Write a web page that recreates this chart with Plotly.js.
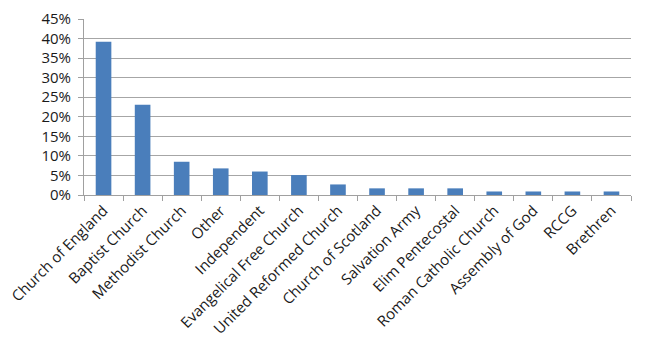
<!DOCTYPE html>
<html>
<head>
<meta charset="utf-8">
<script src="https://cdn.plot.ly/plotly-3.0.1.min.js"></script>
<style>html,body{margin:0;padding:0;background:#fff;}#chart{width:650px;height:352px;}</style>
</head>
<body>
<div id="chart"></div>
<script>
const categories = ["Church of England","Baptist Church","Methodist Church","Other","Independent","Evangelical Free Church","United Reformed Church","Church of Scotland","Salvation Army","Elim Pentecostal","Roman Catholic Church","Assembly of God","RCCG","Brethren"];
const shares = [0.392, 0.231, 0.085, 0.068, 0.060, 0.051, 0.027, 0.017, 0.017, 0.017, 0.009, 0.009, 0.009, 0.009];
const yTicks = [0,0.05,0.10,0.15,0.20,0.25,0.30,0.35,0.40,0.45];

const trace = {
  type: 'bar',
  x: categories,
  y: shares,
  marker: {color: '#4a7ebb', line: {width: 0}},
  hoverinfo: 'x+y'
};
const layout = {
  width: 650, height: 352,
  margin: {l: 84, r: 19, t: 19, b: 157},
  paper_bgcolor: '#fff', plot_bgcolor: '#fff',
  bargap: 0.6,
  font: {family: 'Open Sans, sans-serif', size: 15, color: '#1a1a1a'},
  showlegend: false,
  xaxis: {
    type: 'category',
    tickangle: -45,
    showline: true, linecolor: '#a0a0a0', linewidth: 1,
    ticks: 'outside', ticklen: 5, tickcolor: '#a0a0a0', tickson: 'boundaries',
    showgrid: false,
    tickfont: {size: 15, color: '#1a1a1a'}
  },
  yaxis: {
    range: [0, 0.45],
    tickvals: yTicks,
    tickformat: '.0%',
    showline: true, linecolor: '#a0a0a0', linewidth: 1,
    ticks: 'outside', ticklen: 5, tickcolor: '#a0a0a0',
    ticklabelstandoff: 4,
    gridcolor: '#a6a6a6', gridwidth: 1,
    zeroline: false,
    tickfont: {size: 15, color: '#1a1a1a'}
  }
};
Plotly.newPlot('chart', [trace], layout, {displayModeBar: false, staticPlot: true});
</script>
</body>
</html>
